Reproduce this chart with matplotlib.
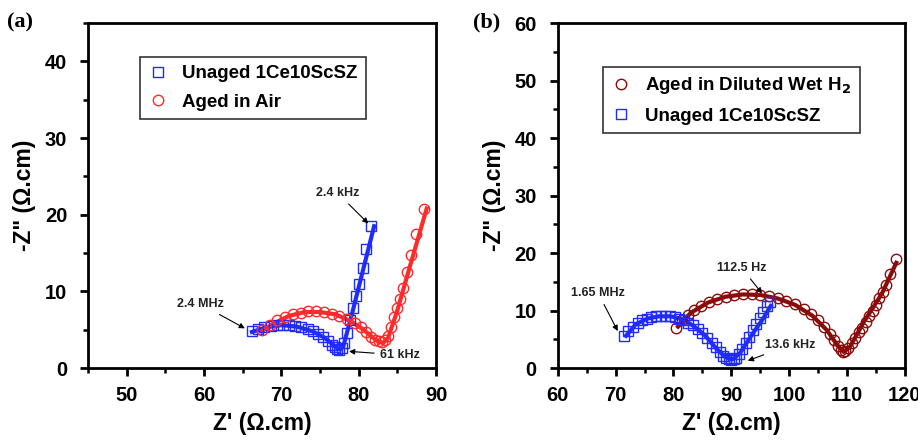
import matplotlib.pyplot as plt
from matplotlib.ticker import MultipleLocator

plt.rcParams['font.family'] = ['Liberation Sans', 'DejaVu Sans']
plt.rcParams['font.weight'] = 'bold'
plt.rcParams['mathtext.default'] = 'bf'

# (a) 未老化 vs 空气中老化
a_unaged_x = [66.2, 67.0, 67.8, 68.6, 69.4, 70.2, 71.0, 71.8, 72.6, 73.4, 74.1, 74.8, 75.4,
              76.0, 76.5, 76.9, 77.2, 77.5, 77.8, 78.1, 78.5, 78.9, 79.3, 79.7, 80.1, 80.6,
              81.0, 81.6]
a_unaged_y = [4.8, 5.1, 5.3, 5.5, 5.6, 5.6, 5.6, 5.5, 5.3, 5.1, 4.8, 4.4, 4.0,
              3.5, 3.0, 2.7, 2.5, 2.4, 2.6, 3.3, 4.6, 6.2, 7.8, 9.4, 11.0, 13.0,
              15.5, 18.5]
a_unaged_fit_x = [66.2, 68.0, 70.0, 72.0, 74.0, 75.5, 76.5, 77.2, 77.6, 78.0, 79.0, 80.0, 81.0, 82.0]
a_unaged_fit_y = [4.7, 5.3, 5.6, 5.4, 4.8, 4.0, 3.2, 2.6, 2.4, 2.8, 6.5, 10.5, 14.5, 18.5]

a_air_x = [67.5, 68.5, 69.5, 70.5, 71.5, 72.5, 73.5, 74.5, 75.5, 76.5, 77.5, 78.5, 79.5,
           80.3, 81.0, 81.6, 82.1, 82.6, 83.0, 83.4, 83.8, 84.2, 84.6, 85.0, 85.4, 85.8,
           86.3, 86.8, 87.4, 88.4]
a_air_y = [5.0, 5.6, 6.2, 6.6, 7.0, 7.2, 7.4, 7.4, 7.3, 7.1, 6.8, 6.4, 5.9,
           5.3, 4.7, 4.1, 3.7, 3.5, 3.4, 3.6, 4.2, 5.3, 6.6, 7.8, 9.0, 10.5,
           12.5, 14.8, 17.5, 20.7]
a_air_fit_x = [67.5, 69.0, 71.0, 73.0, 75.0, 77.0, 79.0, 80.5, 81.8, 82.6, 83.2, 83.8, 85.0, 86.5, 88.8]
a_air_fit_y = [4.8, 5.8, 6.8, 7.3, 7.3, 7.0, 6.1, 5.1, 4.0, 3.4, 3.3, 3.9, 7.5, 12.8, 20.8]

# (b) 稀释湿 H2 中老化 vs 未老化
b_h2_x = [80.5, 81.5, 82.5, 83.5, 84.8, 86.2, 87.6, 89.0, 90.5, 92.0, 93.5, 95.0, 96.5,
          98.0, 99.5, 101.0, 102.5, 103.8, 105.0, 106.0, 107.0, 107.8, 108.4, 108.9, 109.3,
          109.7, 110.2, 110.8, 111.4, 112.0, 112.6, 113.2, 113.8, 114.4, 115.0, 115.6,
          116.2, 116.8, 117.4, 118.5]
b_h2_y = [7.0, 8.3, 9.3, 10.1, 10.8, 11.5, 12.0, 12.4, 12.7, 12.8, 12.8, 12.7, 12.5,
          12.1, 11.7, 11.1, 10.3, 9.4, 8.3, 7.2, 6.0, 4.8, 3.8, 3.1, 2.8,
          2.9, 3.5, 4.3, 5.2, 6.2, 7.0, 8.0, 9.0, 10.0, 11.0, 12.2,
          13.3, 14.5, 16.3, 19.0]
b_h2_fit_x = [80.8, 83.0, 86.0, 89.0, 92.0, 95.0, 98.0, 101.0, 104.0, 106.5, 108.3, 109.4, 110.5, 113.0, 116.0, 118.5]
b_h2_fit_y = [7.2, 9.6, 11.4, 12.4, 12.8, 12.7, 12.1, 11.0, 9.1, 6.6, 4.0, 2.8, 3.7, 8.2, 12.9, 18.3]

b_unaged_x = [71.5, 72.2, 73.0, 73.8, 74.6, 75.4, 76.2, 77.0, 77.8, 78.6, 79.4, 80.2, 81.0,
              81.8, 82.6, 83.4, 84.2, 85.0, 85.8, 86.6, 87.3, 88.0, 88.6, 89.1, 89.6, 90.0,
              90.4, 90.8, 91.3, 91.9, 92.5, 93.1, 93.7, 94.3, 94.9, 95.5, 96.1, 96.6]
b_unaged_y = [5.5, 6.4, 7.2, 7.8, 8.3, 8.6, 8.9, 9.0, 9.1, 9.1, 9.0, 8.9, 8.6,
              8.3, 7.9, 7.4, 6.8, 6.1, 5.3, 4.4, 3.6, 2.8, 2.1, 1.7, 1.5, 1.4,
              1.5, 1.8, 2.4, 3.3, 4.3, 5.4, 6.6, 7.7, 8.7, 9.7, 10.7, 11.5]
b_unaged_fit_x = [71.8, 73.5, 75.5, 77.5, 79.5, 81.5, 83.5, 85.5, 87.5, 89.0, 90.2, 91.5, 93.5, 95.5, 96.8]
b_unaged_fit_y = [5.6, 7.6, 8.6, 9.0, 9.0, 8.5, 7.3, 5.6, 3.3, 1.9, 1.5, 2.6, 5.7, 8.6, 10.8]

blue = '#1f2bff'
red = '#ff2a2a'
brown = '#8b0a0a'

fig = plt.figure(figsize=(9.18, 4.4), dpi=100)
ax1 = fig.add_axes([0.0959, 0.1636, 0.379, 0.784])
ax2 = fig.add_axes([0.6075, 0.1636, 0.3783, 0.784])

mk = dict(linestyle='none', markersize=7.5, markerfacecolor='none', markeredgewidth=1.0)

ax1.plot(a_unaged_fit_x, a_unaged_fit_y, '-', color=blue, lw=3)
ax1.plot(a_air_fit_x, a_air_fit_y, '-', color=red, lw=3)
ax1.plot(a_unaged_x, a_unaged_y, marker='s', color=blue, label='Unaged 1Ce10ScSZ', **mk)
ax1.plot(a_air_x, a_air_y, marker='o', color=red, label='Aged in Air', **mk)

ax2.plot(b_h2_fit_x, b_h2_fit_y, '-', color=brown, lw=3)
ax2.plot(b_unaged_fit_x, b_unaged_fit_y, '-', color=blue, lw=3)
ax2.plot(b_h2_x, b_h2_y, marker='o', color=brown, label='Aged in Diluted Wet H$_2$', **mk)
ax2.plot(b_unaged_x, b_unaged_y, marker='s', color=blue, label='Unaged 1Ce10ScSZ', **mk)

ax1.set_xlim(45, 90)
ax1.set_ylim(0, 45)
ax2.set_xlim(60, 120)
ax2.set_ylim(0, 60)

for ax in (ax1, ax2):
    ax.xaxis.set_major_locator(MultipleLocator(10))
    ax.xaxis.set_minor_locator(MultipleLocator(5))
    ax.yaxis.set_major_locator(MultipleLocator(10))
    ax.yaxis.set_minor_locator(MultipleLocator(5))
    ax.tick_params(which='major', direction='out', length=6, width=2, labelsize=14.5)
    ax.tick_params(which='minor', direction='out', length=3.5, width=1.8)
    ax.tick_params(axis='x', which='major', pad=7)
    ax.tick_params(axis='y', which='major', pad=9)
    for s in ax.spines.values():
        s.set_linewidth(2)
    ax.set_xlabel("Z' (\u03A9.cm)", fontsize=16.5, fontweight='bold', labelpad=5)
    ax.set_ylabel('-Z" (\u03A9.cm)', fontsize=16.5, fontweight='bold', labelpad=6)
    leg = ax.legend(loc='upper left', fontsize=13.5, frameon=True, fancybox=False,
                    edgecolor='black', handlelength=1.0, handletextpad=0.8,
                    borderpad=0.45, labelspacing=0.6, markerscale=1.0)
    leg.get_frame().set_linewidth(1.2)
    for t in leg.get_texts():
        t.set_fontweight('bold')

ax1.get_legend().set_bbox_to_anchor((0.122, 0.93))
ax2.get_legend().set_bbox_to_anchor((0.104, 0.9))

arr = dict(arrowstyle='-|>', color='black', lw=0.8, mutation_scale=8)
af = dict(fontsize=9, fontweight='bold', ha='center', va='center', color='#222222')

ax1.annotate('2.4 MHz', xy=(65.6, 5.0), xytext=(59.6, 8.3), arrowprops=arr, **af)
ax1.annotate('2.4 kHz', xy=(81.5, 18.6), xytext=(77.3, 22.8), arrowprops=arr, **af)
ax1.annotate('61 kHz', xy=(78.4, 2.2), xytext=(85.3, 1.7), arrowprops=arr, **af)

ax2.annotate('1.65 MHz', xy=(70.6, 6.0), xytext=(67.0, 13.0), arrowprops=arr, **af)
ax2.annotate('112.5 Hz', xy=(95.6, 12.6), xytext=(91.8, 17.4), arrowprops=arr, **af)
ax2.annotate('13.6 kHz', xy=(92.4, 1.1), xytext=(100.1, 4.0), arrowprops=arr, **af)

fig.text(0.008, 0.95, '(a)', fontsize=16, fontweight='bold', family='Liberation Serif', va='center')
fig.text(0.515, 0.95, '(b)', fontsize=16, fontweight='bold', family='Liberation Serif', va='center')

fig.savefig('out.png', dpi=100)
